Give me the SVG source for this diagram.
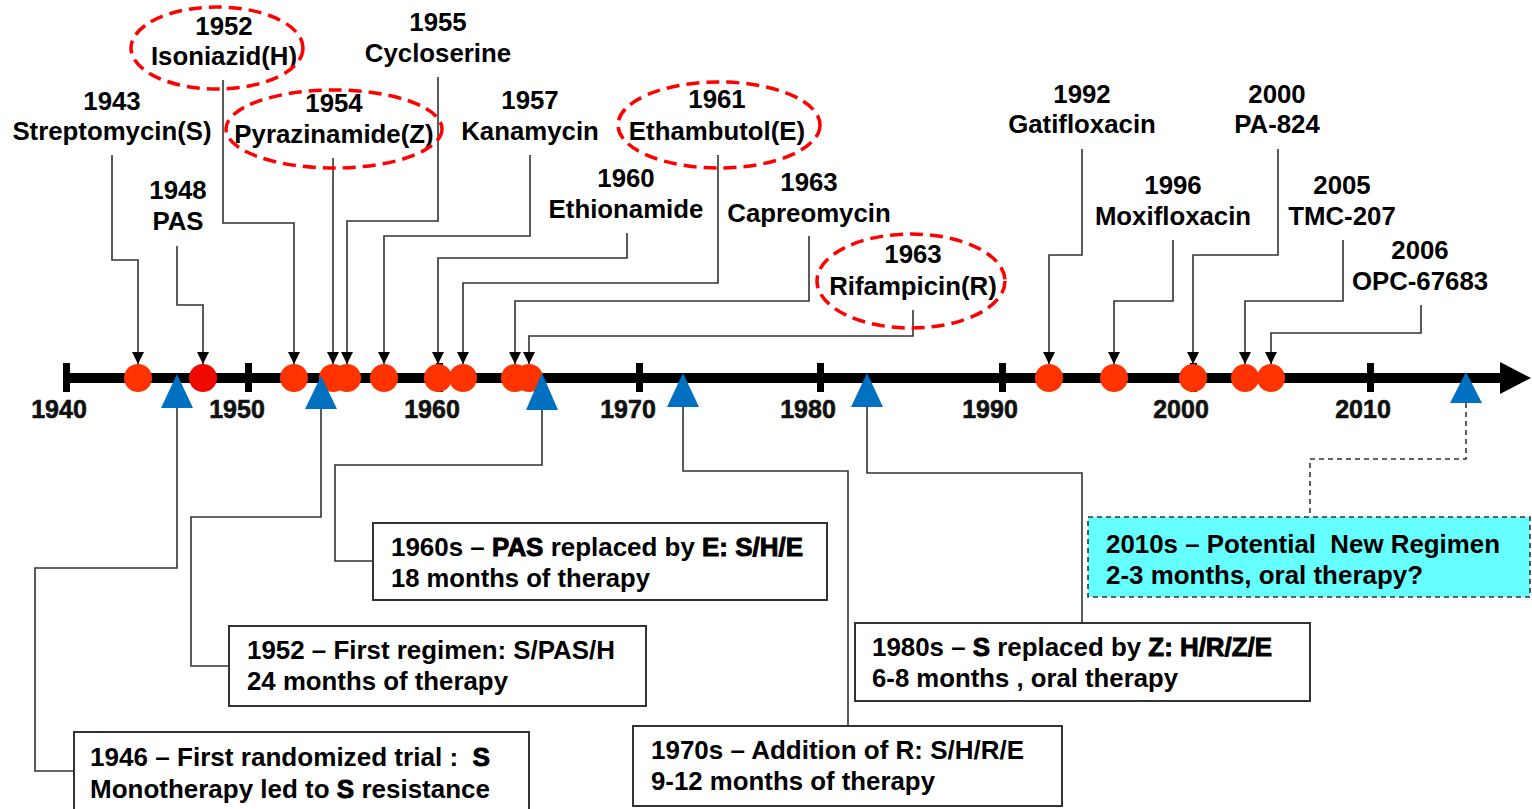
<svg xmlns="http://www.w3.org/2000/svg" width="1532" height="809" viewBox="0 0 1532 809">
<style>
  .lbl { font-family: "Liberation Sans", Arial, sans-serif; font-weight: bold; font-size: 25.8px; fill: #000; text-anchor: middle; }
  .ax { font-family: "Liberation Sans", Arial, sans-serif; font-weight: bold; font-size: 25px; fill: #111; stroke: #111; stroke-width: 0.6; text-anchor: middle; }
  .bt { font-family: "Liberation Sans", Arial, sans-serif; font-weight: bold; font-size: 25px; fill: #000; white-space: pre; }
  .hi { stroke: #000; stroke-width: 0.9; }
  .hl { fill: none; stroke: #FF0000; stroke-width: 3.5; stroke-dasharray: 13 7; }
  .dot { fill: #FF3300; }
  .tri { fill: #0070C0; }
  .box { fill: #fff; stroke: #333; stroke-width: 2; }
  .cbox { fill: #66FFFF; stroke: #333; stroke-width: 1.6; stroke-dasharray: 5 4; }
  .c { fill: none; stroke: #333; stroke-width: 1.6; }
  .ca { fill: none; stroke: #333; stroke-width: 1.6; marker-end: url(#arr); }
  .cd { fill: none; stroke: #333; stroke-width: 1.6; stroke-dasharray: 5 4; }
</style>
<defs>
  <marker id="arr" markerUnits="userSpaceOnUse" markerWidth="12" markerHeight="12" refX="12" refY="6" orient="auto">
    <path d="M0,0 L12,6 L0,12 z" fill="#000"/>
  </marker>
</defs>
<rect width="1532" height="809" fill="#fff"/>

<!-- axis -->
<g id="axis">
  <rect x="63" y="373" width="1442" height="10" fill="#000"/>
  <polygon points="1500,362 1531,378 1500,394" fill="#000"/>
  <g fill="#000">
    <rect x="63" y="363" width="7" height="29"/>
    <rect x="245" y="363" width="7" height="29"/>
    <rect x="436" y="363" width="7" height="29"/>
    <rect x="636" y="363" width="7" height="29"/>
    <rect x="817" y="363" width="7" height="29"/>
    <rect x="999" y="363" width="7" height="29"/>
    <rect x="1190" y="363" width="7" height="29"/>
    <rect x="1367" y="363" width="7" height="29"/>
  </g>
  <text class="ax" x="59" y="418">1940</text>
  <text class="ax" x="237" y="418">1950</text>
  <text class="ax" x="432" y="418">1960</text>
  <text class="ax" x="628" y="418">1970</text>
  <text class="ax" x="808" y="418">1980</text>
  <text class="ax" x="990" y="418">1990</text>
  <text class="ax" x="1181" y="418">2000</text>
  <text class="ax" x="1363" y="418">2010</text>
</g>

<!-- connectors -->
<g id="connectors">
  <path class="ca" d="M112,155 V260 H138 V364"/>
  <path class="ca" d="M177,246 V305 H203 V364"/>
  <path class="ca" d="M223,80 V223 H294 V364"/>
  <path class="ca" d="M333,158 V364"/>
  <path class="ca" d="M438,77 V221 H347 V364"/>
  <path class="ca" d="M530,155 V236 H384 V364"/>
  <path class="ca" d="M627,233 V258 H438 V364"/>
  <path class="ca" d="M718,155 V283 H463 V364"/>
  <path class="ca" d="M809,236 V301 H515 V364"/>
  <path class="ca" d="M913,310 V336 H529 V364"/>
  <path class="ca" d="M1082,149 V255 H1049 V364"/>
  <path class="ca" d="M1173,240 V301 H1114 V364"/>
  <path class="ca" d="M1278,149 V255 H1193 V364"/>
  <path class="ca" d="M1343,240 V301 H1245 V364"/>
  <path class="ca" d="M1421,305 V333 H1271 V364"/>
  <path class="c" d="M177,408 V568 H35 V771 H74"/>
  <path class="c" d="M321,409 V517 H191 V666 H229"/>
  <path class="c" d="M542,410 V465 H335 V561 H373"/>
  <path class="c" d="M683,407 V471 H848 V726"/>
  <path class="c" d="M867,407 V473 H1082 V623"/>
  <path class="cd" d="M1466,403 V459 H1310 V517"/>
</g>

<!-- drug events -->
<g id="d1943"><circle class="dot" cx="138" cy="378" r="14"/>
  <text class="lbl" x="112" y="110">1943</text><text class="lbl" x="112" y="140">Streptomycin(S)</text></g>
<g id="d1948"><circle cx="203" cy="378" r="14" fill="#EE0A00"/>
  <text class="lbl" x="178" y="199">1948</text><text class="lbl" x="178" y="230">PAS</text></g>
<g id="d1952"><circle class="dot" cx="294" cy="378" r="14"/>
  <text class="lbl" x="224" y="35">1952</text><text class="lbl" x="224" y="65">Isoniazid(H)</text>
  <ellipse class="hl" cx="217" cy="48" rx="86" ry="41"/></g>
<g id="d1954"><circle class="dot" cx="333" cy="378" r="14"/>
  <text class="lbl" x="334" y="112">1954</text><text class="lbl" x="334" y="143">Pyrazinamide(Z)</text>
  <ellipse class="hl" cx="334" cy="129" rx="108" ry="39"/></g>
<g id="d1955"><circle class="dot" cx="347" cy="378" r="14"/>
  <text class="lbl" x="438" y="31">1955</text><text class="lbl" x="438" y="62">Cycloserine</text></g>
<g id="d1957"><circle class="dot" cx="384" cy="378" r="14"/>
  <text class="lbl" x="530" y="109">1957</text><text class="lbl" x="530" y="140">Kanamycin</text></g>
<g id="d1960"><circle class="dot" cx="438" cy="378" r="14"/>
  <text class="lbl" x="626" y="187">1960</text><text class="lbl" x="626" y="218">Ethionamide</text></g>
<g id="d1961"><circle class="dot" cx="463" cy="378" r="14"/>
  <text class="lbl" x="717" y="108">1961</text><text class="lbl" x="717" y="140">Ethambutol(E)</text>
  <ellipse class="hl" cx="719" cy="125" rx="101" ry="43"/></g>
<g id="d1963c"><circle class="dot" cx="515" cy="378" r="14"/>
  <text class="lbl" x="809" y="191">1963</text><text class="lbl" x="809" y="222">Capreomycin</text></g>
<g id="d1963r"><circle class="dot" cx="529" cy="378" r="14"/>
  <text class="lbl" x="913" y="263">1963</text><text class="lbl" x="913" y="295">Rifampicin(R)</text>
  <ellipse class="hl" cx="911" cy="281" rx="94" ry="47"/></g>
<g id="d1992"><circle class="dot" cx="1049" cy="378" r="14"/>
  <text class="lbl" x="1082" y="103">1992</text><text class="lbl" x="1082" y="133">Gatifloxacin</text></g>
<g id="d1996"><circle class="dot" cx="1114" cy="378" r="14"/>
  <text class="lbl" x="1173" y="194">1996</text><text class="lbl" x="1173" y="225">Moxifloxacin</text></g>
<g id="d2000"><circle class="dot" cx="1193" cy="378" r="14"/>
  <text class="lbl" x="1277" y="103">2000</text><text class="lbl" x="1277" y="133">PA-824</text></g>
<g id="d2005"><circle class="dot" cx="1245" cy="378" r="14"/>
  <text class="lbl" x="1342" y="194">2005</text><text class="lbl" x="1342" y="225">TMC-207</text></g>
<g id="d2006"><circle class="dot" cx="1271" cy="378" r="14"/>
  <text class="lbl" x="1420" y="259">2006</text><text class="lbl" x="1420" y="290">OPC-67683</text></g>

<!-- regimens -->
<g id="r1946"><polygon class="tri" points="177,374 161,408 193,408"/>
  <rect class="box" x="74" y="732" width="455" height="90"/>
  <text class="bt" x="90" y="766" textLength="400" lengthAdjust="spacingAndGlyphs">1946 – First randomized trial :  <tspan class="hi">S</tspan></text>
  <text class="bt" x="90" y="798" textLength="400" lengthAdjust="spacingAndGlyphs">Monotherapy led to <tspan class="hi">S</tspan> resistance</text></g>
<g id="r1952"><polygon class="tri" points="321,376 305,409 337,409"/>
  <rect class="box" x="229" y="626" width="417" height="80"/>
  <text class="bt" x="247" y="659" textLength="368" lengthAdjust="spacingAndGlyphs">1952 – First regimen: S/PAS/H</text>
  <text class="bt" x="247" y="690" textLength="261" lengthAdjust="spacingAndGlyphs">24 months of therapy</text></g>
<g id="r1960s"><polygon class="tri" points="542,373 526,410 558,410"/>
  <rect class="box" x="373" y="523" width="454" height="77"/>
  <text class="bt" x="391" y="556" textLength="412" lengthAdjust="spacingAndGlyphs">1960s – <tspan class="hi">PAS</tspan> replaced by <tspan class="hi">E: S/H/E</tspan></text>
  <text class="bt" x="391" y="587" textLength="259" lengthAdjust="spacingAndGlyphs">18 months of therapy</text></g>
<g id="r1970s"><polygon class="tri" points="683,373 667,407 699,407"/>
  <rect class="box" x="633" y="726" width="429" height="80"/>
  <text class="bt" x="651" y="759" textLength="373" lengthAdjust="spacingAndGlyphs">1970s – Addition of R: S/H/R/E</text>
  <text class="bt" x="651" y="790" textLength="284" lengthAdjust="spacingAndGlyphs">9-12 months of therapy</text></g>
<g id="r1980s"><polygon class="tri" points="867,373 851,407 883,407"/>
  <rect class="box" x="855" y="623" width="455" height="78"/>
  <text class="bt" x="872" y="656" textLength="400" lengthAdjust="spacingAndGlyphs">1980s – <tspan class="hi">S</tspan> replaced by <tspan class="hi">Z: H/R/Z/E</tspan></text>
  <text class="bt" x="872" y="687" textLength="306" lengthAdjust="spacingAndGlyphs">6-8 months , oral therapy</text></g>
<g id="r2010s"><polygon class="tri" points="1466,372 1450,403 1482,403"/>
  <rect class="cbox" x="1088" y="517" width="442" height="80"/>
  <text class="bt" x="1106" y="553" textLength="394" lengthAdjust="spacingAndGlyphs">2010s – Potential  New Regimen</text>
  <text class="bt" x="1106" y="584" textLength="317" lengthAdjust="spacingAndGlyphs">2-3 months, oral therapy?</text></g>
</svg>
